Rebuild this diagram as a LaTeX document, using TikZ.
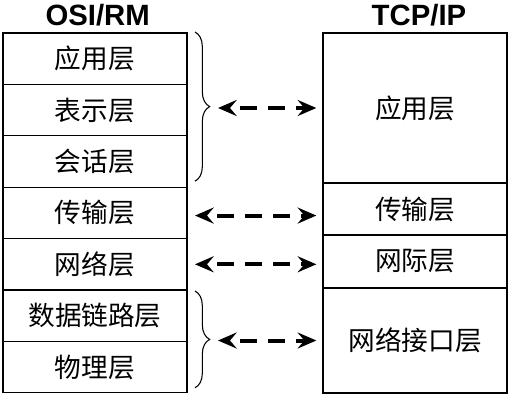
\documentclass[tikz,border=0pt]{standalone}
\usepackage{fontspec}
\newfontfamily\cjk{Noto Sans CJK SC}
\newfontfamily\titlefont{Liberation Sans}
\usetikzlibrary{positioning,arrows.meta,decorations.pathreplacing}

\tikzset{
  layer/.style={draw, line width=0.8pt, minimum width=138pt, inner sep=0pt,
    outer sep=0pt, font=\cjk\fontsize{20}{24}\selectfont},
  title/.style={anchor=base, font=\titlefont\bfseries\fontsize{22}{26}\selectfont},
  link/.style={line width=3pt, dash pattern=on 12.5pt off 8.5pt, dash phase=12.5pt,
    {Stealth[length=14pt,width=12pt,inset=5pt]}-{Stealth[length=14pt,width=12pt,inset=5pt]}},
  curly/.style={decorate, decoration={brace, amplitude=11pt}, line width=0.8pt}
}

\begin{document}
\begin{tikzpicture}[x=0.75pt,y=-0.75pt]
    \useasboundingbox (0,0) rectangle (511,400);
    % OSI/RM
    \node[layer, minimum height=38.55pt, anchor=north west] (osi1) at (3,33) {应用层};
    \node[layer, minimum height=38.55pt, below=0pt of osi1] (osi2) {表示层};
    \node[layer, minimum height=38.55pt, below=0pt of osi2] (osi3) {会话层};
    \node[layer, minimum height=38.55pt, below=0pt of osi3] (osi4) {传输层};
    \node[layer, minimum height=38.55pt, below=0pt of osi4] (osi5) {网络层};
    \node[layer, minimum height=38.55pt, below=0pt of osi5] (osi6) {数据链路层};
    \node[layer, minimum height=38.55pt, below=0pt of osi6] (osi7) {物理层};
    \node[title] (osiTitle) at ([xshift=2pt,yshift=6pt]osi1.north) {OSI/RM};
    % TCP/IP
    \node[layer, minimum height=112.5pt, anchor=north west] (tcp1) at (323,33) {应用层};
    \node[layer, minimum height=39pt, below=0pt of tcp1] (tcp2) {传输层};
    \node[layer, minimum height=39.75pt, below=0pt of tcp2] (tcp3) {网际层};
    \node[layer, minimum height=78.75pt, below=0pt of tcp3] (tcp4) {网络接口层};
    \node[title] (tcpTitle) at ([xshift=3pt,yshift=6pt]tcp1.north) {TCP/IP};
    % braces
    \draw[curly] ([xshift=6pt,yshift=0.75pt]osi1.north east) -- ([xshift=6pt,yshift=4.5pt]osi3.south east);
    \draw[curly] ([xshift=6pt,yshift=-0.75pt]osi6.north east) -- ([xshift=6pt,yshift=3.75pt]osi7.south east);
    % links
    \coordinate (appTip) at ([xshift=-78.75pt]tcp1.west);
    \coordinate (tpTip) at ([xshift=6pt,yshift=-2pt]osi4.east);
    \coordinate (netTip) at ([xshift=6pt]osi5.east);
    \coordinate (linkTip) at ([xshift=-78.75pt]tcp4.west);
    \draw[link] (appTip) -- ([xshift=-5pt]tcp1.west);
    \draw[link] (tpTip) -- ([xshift=-5pt]tpTip -| tcp2.west);
    \draw[link] (netTip) -- ([xshift=-5pt]netTip -| tcp3.west);
    \draw[link] (linkTip) -- ([xshift=-5pt]tcp4.west);
  \end{tikzpicture}
\end{document}
